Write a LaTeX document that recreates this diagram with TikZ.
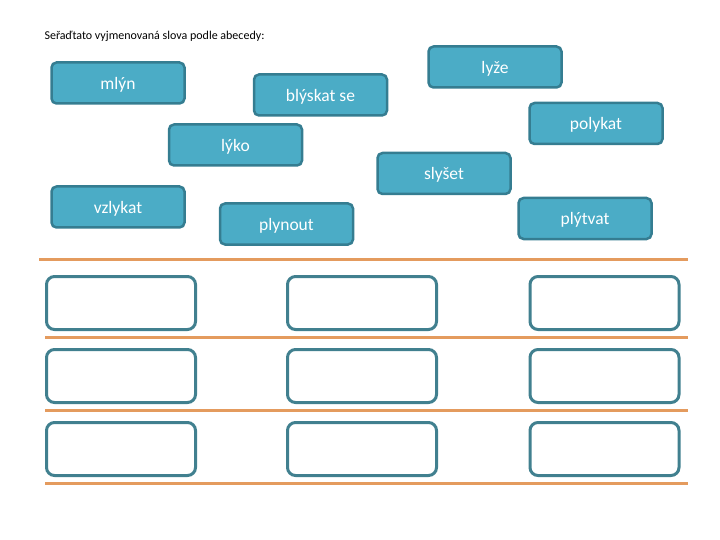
\documentclass[tikz,border=0pt]{standalone}
\usepackage{fontspec}
\setmainfont{Carlito}
\definecolor{wordfill}{HTML}{4BACC6}
\definecolor{wordedge}{HTML}{357D91}
\definecolor{slotedge}{HTML}{41808F}
\definecolor{ruleorange}{HTML}{E49B5E}
\tikzset{
  wordbox/.style={draw=wordedge,fill=wordfill,line width=2.5pt,rounded corners=5pt,
    minimum width=133pt,minimum height=41pt,text=white,
    font=\fontsize{17.5}{20}\selectfont,text height=2.7ex,text depth=0pt},
  slotbox/.style={draw=slotedge,line width=3pt,rounded corners=8pt,
    minimum width=149pt,minimum height=53pt},
  orangerule/.style={draw=ruleorange,line width=3pt}
}
\begin{document}
\begin{tikzpicture}[x=1pt,y=-1pt]
\useasboundingbox (0,0) rectangle (720,540);
\node[anchor=west,font=\fontsize{12}{14}\selectfont] (title) at (41,36) {Seřaďtato vyjmenovaná slova podle abecedy:};
% words to sort
\node[wordbox] (mlyn) at (118,83) {mlýn};
\node[wordbox] (blyskat) at (320.5,95) {blýskat se};
\node[wordbox] (lyze) at (495,67) {lyže};
\node[wordbox] (polykat) at (596,123.5) {polykat};
\node[wordbox] (lyko) at (235.5,145) {lýko};
\node[wordbox] (slyset) at (444,173.5) {slyšet};
\node[wordbox] (vzlykat) at (118,207) {vzlykat};
\node[wordbox] (plynout) at (286.5,224) {plynout};
\node[wordbox] (plytvat) at (585,218.5) {plýtvat};
% rules
\draw[orangerule] (39,259) -- (688,259);
\foreach \y in {337,410,483}
\draw[orangerule] (45,\y) -- (688,\y);
% empty slots
\foreach \x/\c in {121/a,362/b,604.5/c}
\foreach \y/\r in {303/1,376/2,449/3}
\node[slotbox] (slot\c\r) at (\x,\y) {};
\end{tikzpicture}
\end{document}
